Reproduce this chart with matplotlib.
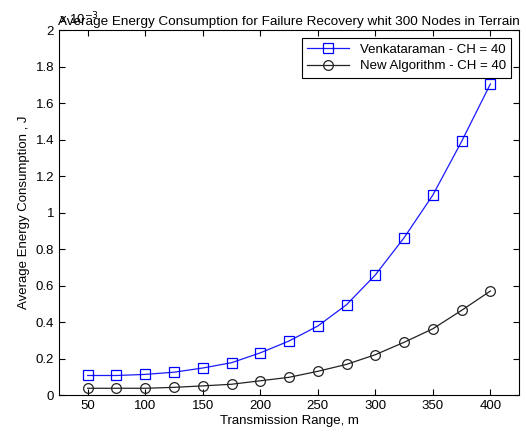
import matplotlib
matplotlib.use("Agg")
import matplotlib.pyplot as plt
from matplotlib.ticker import FuncFormatter

plt.rcParams['font.family'] = ['Liberation Sans', 'DejaVu Sans']

# Transmission range (m) and average energy consumption (J)
ranges = [50, 75, 100, 125, 150, 175, 200, 225, 250, 275, 300, 325, 350, 375, 400]
venkataraman = [0.107e-3, 0.107e-3, 0.113e-3, 0.125e-3, 0.148e-3, 0.177e-3, 0.231e-3,
                0.296e-3, 0.378e-3, 0.495e-3, 0.658e-3, 0.862e-3, 1.096e-3, 1.39e-3, 1.705e-3]
new_algorithm = [0.037e-3, 0.037e-3, 0.037e-3, 0.042e-3, 0.050e-3, 0.059e-3, 0.078e-3,
                 0.097e-3, 0.130e-3, 0.168e-3, 0.221e-3, 0.289e-3, 0.363e-3, 0.464e-3, 0.570e-3]
x_ticks = [50, 100, 150, 200, 250, 300, 350, 400]
y_ticks = [0, 0.2e-3, 0.4e-3, 0.6e-3, 0.8e-3, 1.0e-3, 1.2e-3, 1.4e-3, 1.6e-3, 1.8e-3, 2.0e-3]

fig = plt.figure(figsize=(5.26, 4.36), dpi=100)
ax = fig.add_axes([0.112, 0.094, 0.875, 0.837])

ax.plot(ranges, venkataraman, color='#1a1aff', lw=0.9, marker='s', markersize=7,
        markerfacecolor='none', markeredgecolor='#0000ff', markeredgewidth=0.9,
        label='Venkataraman - CH = 40')
ax.plot(ranges, new_algorithm, color='#222222', lw=0.9, marker='o', markersize=7,
        markerfacecolor='none', markeredgecolor='#222222', markeredgewidth=0.9,
        label='New Algorithm - CH = 40')

ax.set_xlim(25, 425)
ax.set_ylim(0, 2e-3)
ax.set_xticks(x_ticks)
ax.set_yticks(y_ticks)
ax.yaxis.set_major_formatter(FuncFormatter(lambda v, p: '%g' % round(v * 1e3, 6)))
ax.tick_params(direction='in', top=True, right=True, labelsize=9.5, length=4, width=0.8)
for s in ax.spines.values():
    s.set_linewidth(0.8)

ax.text(0.0, 1.008, r'x 10$^{-3}$', transform=ax.transAxes, fontsize=9.5,
        ha='left', va='bottom')
ax.set_title('Average Energy Consumption for Failure Recovery whit 300 Nodes in Terrain',
             fontsize=9.7, pad=4)
ax.set_xlabel('Transmission Range, m', fontsize=9.5, labelpad=2)
ax.set_ylabel('Average Energy Consumption , J', fontsize=9.5, labelpad=4)

leg = ax.legend(loc='upper right', fontsize=9.5, fancybox=False, framealpha=1,
                edgecolor='black', borderaxespad=0.6, handlelength=3.2,
                borderpad=0.4, labelspacing=0.35)
leg.get_frame().set_linewidth(0.8)

fig.savefig('out.png', dpi=100)
